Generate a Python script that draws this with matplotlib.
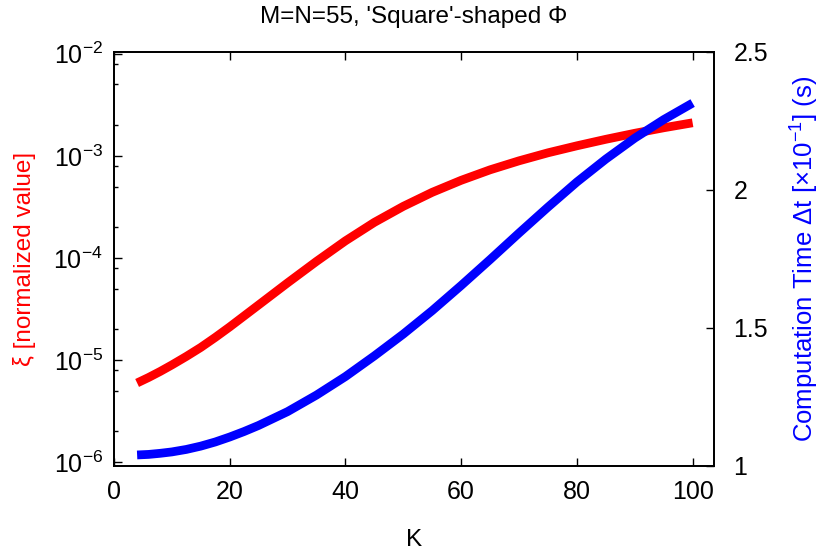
import numpy as np
import matplotlib
matplotlib.use("Agg")
import matplotlib.pyplot as plt
from matplotlib.ticker import LogLocator, FuncFormatter, NullFormatter, MultipleLocator

plt.rcParams['font.family'] = ['Liberation Sans', 'DejaVu Sans']
plt.rcParams['mathtext.fontset'] = 'custom'
plt.rcParams['mathtext.rm'] = 'Liberation Sans'
plt.rcParams['mathtext.default'] = 'regular'

# number of components K
K = [4, 6, 8, 10, 12.5, 15, 17.5, 20, 22.5, 25, 30, 35, 40, 45, 50,
     55, 60, 65, 70, 75, 80, 85, 90, 95, 100]

# normalized error xi (left, log scale)
xi = [5.95e-6, 6.74e-6, 7.72e-6, 8.93e-6, 1.082e-5, 1.326e-5, 1.662e-5, 2.107e-5,
      2.70e-5, 3.46e-5, 5.69e-5, 9.24e-5, 1.468e-4, 2.228e-4, 3.198e-4, 4.387e-4,
      5.753e-4, 7.29e-4, 8.93e-4, 1.070e-3, 1.253e-3, 1.451e-3, 1.662e-3,
      1.882e-3, 2.106e-3]

# computation time in units of 0.1 s (right axis)
dt = [1.040, 1.042, 1.046, 1.051, 1.060, 1.072, 1.087, 1.105, 1.125, 1.147,
      1.197, 1.257, 1.324, 1.399, 1.478, 1.563, 1.654, 1.748, 1.844, 1.938,
      2.029, 2.112, 2.188, 2.255, 2.315]

fig = plt.figure(figsize=(8.27, 5.52), dpi=100)
ax = fig.add_axes([0.1378, 0.1558, 0.7256, 0.75])
ax2 = ax.twinx()

ax.plot(K, xi, color='red', lw=6.3, solid_capstyle='butt', solid_joinstyle='round', zorder=3)
ax2.plot(K, dt, color='blue', lw=6.3, solid_capstyle='butt', solid_joinstyle='round', zorder=3)

ax.set_yscale('log')
ax.set_xlim(0, 103.7)
ax.set_ylim(10 ** -6.039, 10 ** -1.983)
ax.yaxis.set_major_locator(LogLocator(base=10, numticks=10))
ax.yaxis.set_minor_locator(LogLocator(base=10, subs=[2, 5, 8], numticks=10))
ax.yaxis.set_major_formatter(FuncFormatter(lambda v, p: r'$10^{%d}$' % round(np.log10(v))))
ax.yaxis.set_minor_formatter(NullFormatter())
ax.xaxis.set_major_locator(MultipleLocator(20))

ax2.set_ylim(1, 2.5)
ax2.set_yticks([1, 1.5, 2, 2.5])
ax2.set_yticklabels(['1', '1.5', '2', '2.5'])

ax.tick_params(axis='both', which='major', direction='in', length=6, width=1,
               labelsize=18, pad=8, top=True)
ax.tick_params(axis='y', which='minor', direction='in', length=3, width=1)
ax.tick_params(axis='x', which='major', pad=10)
ax2.tick_params(axis='y', direction='in', length=6, width=1, labelsize=18, pad=14)

for a in (ax, ax2):
    for s in a.spines.values():
        s.set_linewidth(1.3)

ax.set_xlabel('K', fontsize=17.5, labelpad=18)
ax.set_ylabel('ξ [normalized value]', fontsize=17.5, color='red')
ax.yaxis.set_label_coords(-0.13, 0.5)
ax2.set_ylabel(r'Computation Time Δt [×10$^{-1}$] (s)', fontsize=18.5, color='blue', labelpad=15)
ax.set_title("M=N=55, 'Square'-shaped Φ", fontsize=17.5, pad=21)

fig.savefig('out.png', dpi=100)
